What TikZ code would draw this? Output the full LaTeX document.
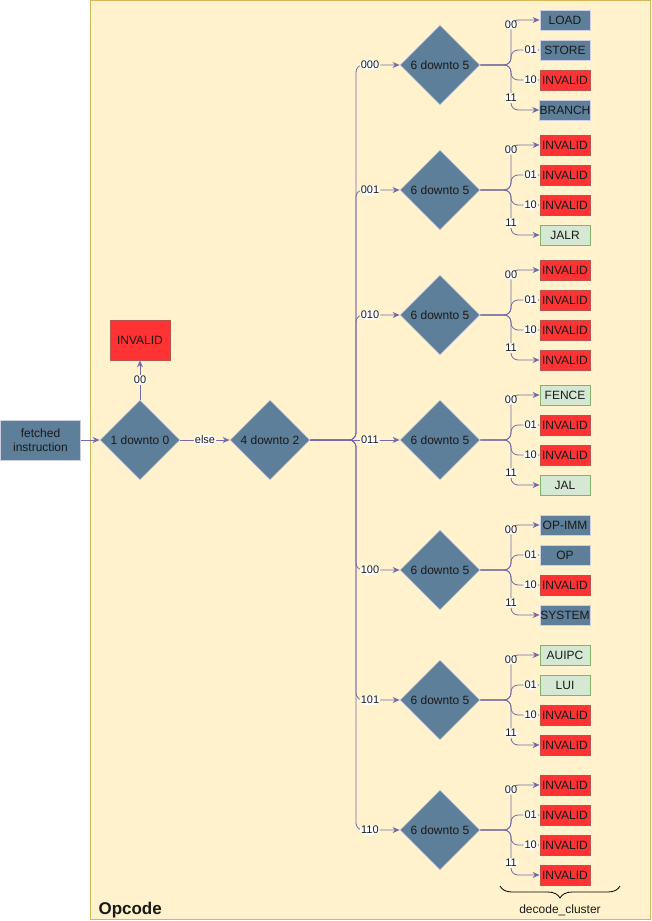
\documentclass[tikz,border=0pt]{standalone}
\usepackage{fontspec}
\setmainfont{Liberation Sans}
\usetikzlibrary{shapes.geometric,arrows.meta,decorations.pathreplacing}
\definecolor{cont}{HTML}{FFF2CC}
\definecolor{contb}{HTML}{D6B656}
\definecolor{bluef}{HTML}{5D7F99}
\definecolor{blueb}{HTML}{D0CEE2}
\definecolor{redf}{HTML}{FF3333}
\definecolor{redb}{HTML}{B85450}
\definecolor{greenf}{HTML}{D5E8D4}
\definecolor{greenb}{HTML}{82B366}
\definecolor{edgec}{HTML}{736CA8}
\definecolor{txt}{HTML}{1A1A1A}
\begin{document}
\begin{tikzpicture}[x=1pt,y=-1pt,
  base/.style={draw, line width=0.8pt, inner sep=0pt, font=\fontsize{12}{14}\selectfont, text=txt},
  blu/.style={base, fill=bluef, draw=blueb},
  red/.style={base, fill=redf, draw=redb},
  grn/.style={base, fill=greenf, draw=greenb},
  leaf/.style={minimum width=50pt, minimum height=20pt},
  dec/.style={blu, diamond, minimum width=80pt, minimum height=80pt},
  conn/.style={draw=edgec, line width=0.8pt, rounded corners=7pt, -{Stealth[length=7pt,width=6pt]}},
  lbl/.style={fill=white, inner sep=1pt, font=\fontsize{11}{12}\selectfont, text=txt}
]
\useasboundingbox (0,0) rectangle (651,921);
\draw[fill=cont, draw=contb, line width=0.8pt] (90.5,0.5) rectangle (650.5,919.5);

\node[blu, minimum width=80pt, minimum height=40pt, align=center] (fetch) at (40.5,440) {fetched\\instruction};
\node[dec] (d1) at (140,440) {1 downto 0};
\node[red, minimum width=60pt, minimum height=40pt] (inv0) at (140,340) {INVALID};
\node[dec] (d2) at (270,440) {4 downto 2};
\draw[conn] (fetch) -- (d1);
\draw[conn] (d1) -- node[lbl]{00} (inv0);
\draw[conn] (d1) -- node[lbl]{else} (d2);

\foreach \i/\c/\code/\sa/\ta/\sb/\tb/\sc/\tc/\sd/\td in {
  1/65/000/blu/LOAD/blu/STORE/red/INVALID/blu/BRANCH,
  2/190/001/red/INVALID/red/INVALID/red/INVALID/grn/JALR,
  3/315/010/red/INVALID/red/INVALID/red/INVALID/red/INVALID,
  4/440/011/grn/FENCE/red/INVALID/red/INVALID/grn/JAL,
  5/570/100/blu/OP-IMM/blu/OP/red/INVALID/blu/SYSTEM,
  6/700/101/grn/AUIPC/grn/LUI/red/INVALID/red/INVALID,
  7/830/110/red/INVALID/red/INVALID/red/INVALID/red/INVALID}{
  \node[dec] (s\i) at (440,\c) {6 downto 5};
  \node[\sa,leaf] (l\i a) at (565,{\c-45}) {\ta};
  \node[\sb,leaf] (l\i b) at (565,{\c-15}) {\tb};
  \node[\sc,leaf] (l\i c) at (565,{\c+15}) {\tc};
  \node[\sd,leaf] (l\i d) at (565,{\c+45}) {\td};
  \ifnum\i=4
    \draw[conn] (d2.east) -- node[lbl,pos=0.667]{\code} (s\i.west);
  \else
    \draw[conn] (d2.east) -- (356,440) |- node[lbl,pos=0.66]{\code} (s\i.west);
  \fi
  \draw[conn] (s\i.east) -- (511,\c) |- node[lbl,pos=0.45]{00} (l\i a.west);
  \draw[conn] (s\i.east) -- (511,\c) |- node[lbl,pos=0.845]{01} (l\i b.west);
  \draw[conn] (s\i.east) -- (511,\c) |- node[lbl,pos=0.845]{10} (l\i c.west);
  \draw[conn] (s\i.east) -- (511,\c) |- node[lbl,pos=0.367]{11} (l\i d.west);
}

\coordinate (brL) at (500,886);
\coordinate (brR) at (620,886);
\draw[line width=0.8pt, decorate, decoration={brace, mirror, amplitude=12pt}] (brL) -- (brR);
\node[font=\fontsize{12}{14}\selectfont, text=txt] (cl) at (560,910) {decode\_cluster};
\node[anchor=west, font=\bfseries\fontsize{17}{18}\selectfont, text=txt] (title) at (95,910) {Opcode};
\end{tikzpicture}
\end{document}
